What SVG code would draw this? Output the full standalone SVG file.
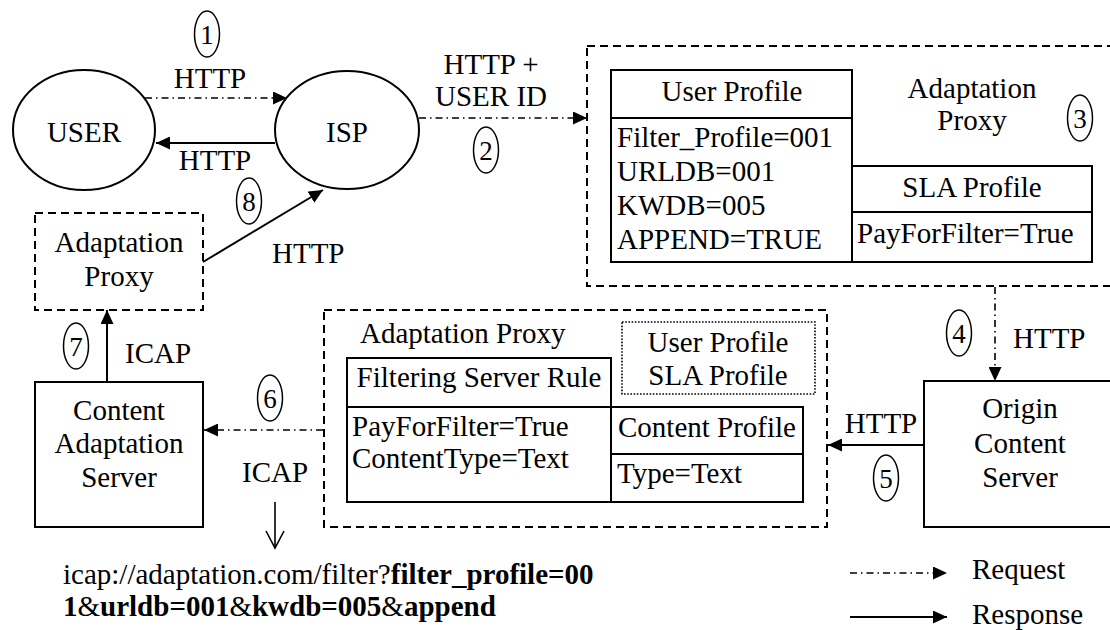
<svg xmlns="http://www.w3.org/2000/svg" width="1110" height="630" viewBox="0 0 1110 630">
<defs>
<style>
.c{text-anchor:middle}
.b{font-weight:bold}
.shape{fill:#fff;stroke:#000;stroke-width:2}
.dash{fill:none;stroke:#000;stroke-width:2;stroke-dasharray:8,5}
.dot{fill:none;stroke:#000;stroke-width:1.6;stroke-dasharray:1.6,1.6}
.badge{fill:none;stroke:#000;stroke-width:1.5}
.req{fill:none;stroke:#000;stroke-width:1.6;stroke-dasharray:7,4,1.5,4;marker-end:url(#ah)}
.res{fill:none;stroke:#000;stroke-width:2;marker-end:url(#ah)}
.open{fill:none;stroke:#000;stroke-width:1.6}
</style>
<marker id="ah" markerUnits="userSpaceOnUse" markerWidth="15" markerHeight="13" refX="14" refY="6.5" orient="auto">
<path d="M0,0 L14,6.5 L0,13 z" fill="#000"/>
</marker>
</defs>
<rect width="1110" height="630" fill="#fff"/>

<g id="user">
<ellipse class="shape" cx="84" cy="130" rx="71" ry="60"/>
<text font-family="Liberation Serif" font-size="29" class="c" x="84" y="142">USER</text>
</g>
<g id="isp">
<ellipse class="shape" cx="347" cy="130" rx="72" ry="59"/>
<text font-family="Liberation Serif" font-size="29" class="c" x="347" y="142">ISP</text>
</g>

<g id="adaptation-proxy-top">
<rect class="dash" x="587" y="46" width="545" height="240"/>
<text font-family="Liberation Serif" font-size="29" class="c" x="972" y="98">Adaptation</text>
<text font-family="Liberation Serif" font-size="29" class="c" x="972" y="130">Proxy</text>
</g>
<g id="user-profile">
<rect class="shape" x="611" y="70" width="241" height="192"/>
<line x1="611" y1="118" x2="852" y2="118" stroke="#000" stroke-width="2"/>
<text font-family="Liberation Serif" font-size="29" class="c" x="732" y="101">User Profile</text>
<text font-family="Liberation Serif" font-size="29" x="617" y="147">Filter_Profile=001</text>
<text font-family="Liberation Serif" font-size="29" x="617" y="181">URLDB=001</text>
<text font-family="Liberation Serif" font-size="29" x="617" y="215">KWDB=005</text>
<text font-family="Liberation Serif" font-size="29" x="617" y="249">APPEND=TRUE</text>
</g>
<g id="sla-profile">
<rect class="shape" x="852" y="166" width="240" height="96"/>
<line x1="852" y1="212" x2="1092" y2="212" stroke="#000" stroke-width="2"/>
<text font-family="Liberation Serif" font-size="29" class="c" x="972" y="197">SLA Profile</text>
<text font-family="Liberation Serif" font-size="29" x="857" y="243">PayForFilter=True</text>
</g>

<g id="adaptation-proxy-left">
<rect class="dash" x="35" y="213" width="168" height="97"/>
<text font-family="Liberation Serif" font-size="29" class="c" x="119" y="252">Adaptation</text>
<text font-family="Liberation Serif" font-size="29" class="c" x="119" y="286">Proxy</text>
</g>
<g id="content-adaptation-server">
<rect class="shape" x="35" y="382" width="168" height="145"/>
<text font-family="Liberation Serif" font-size="29" class="c" x="119" y="420">Content</text>
<text font-family="Liberation Serif" font-size="29" class="c" x="119" y="453">Adaptation</text>
<text font-family="Liberation Serif" font-size="29" class="c" x="119" y="487">Server</text>
</g>

<g id="adaptation-proxy-middle">
<rect class="dash" x="324" y="310" width="503" height="217"/>
<text font-family="Liberation Serif" font-size="29" x="360" y="343">Adaptation Proxy</text>
<rect class="dot" x="622" y="322" width="193" height="72"/>
<text font-family="Liberation Serif" font-size="29" class="c" x="718" y="352">User Profile</text>
<text font-family="Liberation Serif" font-size="29" class="c" x="718" y="385">SLA Profile</text>
</g>
<g id="filtering-server-rule">
<rect class="shape" x="347" y="358" width="264" height="144"/>
<line x1="347" y1="407" x2="611" y2="407" stroke="#000" stroke-width="2"/>
<text font-family="Liberation Serif" font-size="29" class="c" x="479" y="387">Filtering Server Rule</text>
<text font-family="Liberation Serif" font-size="29" x="352" y="436">PayForFilter=True</text>
<text font-family="Liberation Serif" font-size="29" x="352" y="468">ContentType=Text</text>
</g>
<g id="content-profile">
<rect class="shape" x="611" y="407" width="192" height="95"/>
<line x1="611" y1="454" x2="803" y2="454" stroke="#000" stroke-width="2"/>
<text font-family="Liberation Serif" font-size="29" class="c" x="707" y="437">Content Profile</text>
<text font-family="Liberation Serif" font-size="29" x="617" y="483">Type=Text</text>
</g>

<g id="origin-content-server">
<rect class="shape" x="924" y="381" width="200" height="146"/>
<text font-family="Liberation Serif" font-size="29" class="c" x="1020" y="418">Origin</text>
<text font-family="Liberation Serif" font-size="29" class="c" x="1020" y="453">Content</text>
<text font-family="Liberation Serif" font-size="29" class="c" x="1020" y="487">Server</text>
</g>

<g id="connectors">
<line class="req" x1="145" y1="98" x2="287" y2="98"/>
<line class="res" x1="275" y1="143" x2="156" y2="143"/>
<line class="req" x1="419" y1="118" x2="587" y2="118"/>
<line class="req" x1="995" y1="287" x2="995" y2="381"/>
<line class="res" x1="924" y1="445" x2="828" y2="445"/>
<line class="req" x1="323" y1="430" x2="204" y2="430"/>
<line class="res" x1="107" y1="382" x2="107" y2="310"/>
<line class="res" x1="203" y1="262" x2="323" y2="190"/>
<line class="open" x1="275" y1="502" x2="275" y2="548"/>
<polyline class="open" points="266,531 275,548 284,531"/>
<line class="req" x1="850" y1="573" x2="947" y2="573"/>
<line class="res" x1="850" y1="617" x2="947" y2="617"/>
</g>

<g id="labels">
<text font-family="Liberation Serif" font-size="29" class="c" x="210" y="88">HTTP</text>
<text font-family="Liberation Serif" font-size="29" class="c" x="215" y="170">HTTP</text>
<text font-family="Liberation Serif" font-size="29" class="c" x="491" y="74">HTTP +</text>
<text font-family="Liberation Serif" font-size="29" class="c" x="491" y="106">USER ID</text>
<text font-family="Liberation Serif" font-size="29" x="272" y="263">HTTP</text>
<text font-family="Liberation Serif" font-size="29" x="1013" y="348">HTTP</text>
<text font-family="Liberation Serif" font-size="29" class="c" x="881" y="433">HTTP</text>
<text font-family="Liberation Serif" font-size="29" x="125" y="363">ICAP</text>
<text font-family="Liberation Serif" font-size="29" x="242" y="482">ICAP</text>
<text font-family="Liberation Serif" font-size="29" x="63" y="584">icap://adaptation.com/filter?<tspan class="b">filter_profile=00</tspan></text>
<text font-family="Liberation Serif" font-size="29" x="63" y="616" class="b">1<tspan font-weight="normal">&amp;</tspan>urldb=001<tspan font-weight="normal">&amp;</tspan>kwdb=005<tspan font-weight="normal">&amp;</tspan>append</text>
<text font-family="Liberation Serif" font-size="29" x="972" y="579">Request</text>
<text font-family="Liberation Serif" font-size="29" x="972" y="624">Response</text>
</g>

<g id="step-numbers">
<ellipse class="badge" cx="207" cy="34" rx="12.5" ry="23"/><text font-family="Liberation Serif" font-size="27" class="c" x="207" y="44">1</text>
<ellipse class="badge" cx="486" cy="150" rx="12.5" ry="23"/><text font-family="Liberation Serif" font-size="27" class="c" x="486" y="160">2</text>
<ellipse class="badge" cx="1080" cy="118" rx="12.5" ry="23"/><text font-family="Liberation Serif" font-size="27" class="c" x="1080" y="128">3</text>
<ellipse class="badge" cx="959" cy="333" rx="12.5" ry="23"/><text font-family="Liberation Serif" font-size="27" class="c" x="959" y="343">4</text>
<ellipse class="badge" cx="886" cy="478" rx="12.5" ry="23"/><text font-family="Liberation Serif" font-size="27" class="c" x="886" y="488">5</text>
<ellipse class="badge" cx="270" cy="398" rx="12.5" ry="23"/><text font-family="Liberation Serif" font-size="27" class="c" x="270" y="408">6</text>
<ellipse class="badge" cx="76" cy="346" rx="12.5" ry="23"/><text font-family="Liberation Serif" font-size="27" class="c" x="76" y="356">7</text>
<ellipse class="badge" cx="249" cy="201" rx="12.5" ry="23"/><text font-family="Liberation Serif" font-size="27" class="c" x="249" y="211">8</text>
</g>
</svg>
